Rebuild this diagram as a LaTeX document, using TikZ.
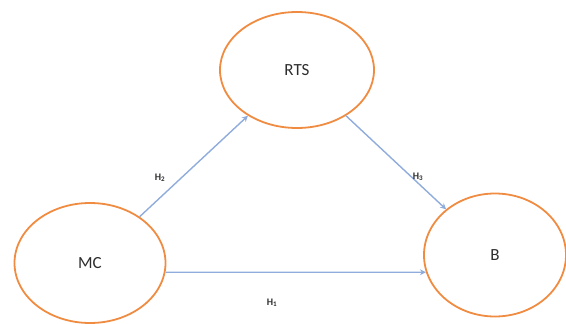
\documentclass[tikz,border=0pt]{standalone}
\usepackage{fontspec}
\setmainfont{Carlito}
\usetikzlibrary{shapes.geometric,arrows.meta}
\definecolor{ringorange}{RGB}{240,140,66}
\definecolor{linkblue}{RGB}{143,172,220}
\definecolor{inktext}{RGB}{45,45,45}
\tikzset{
  construct/.style={ellipse, draw=ringorange, line width=1.8pt, fill=white,
    inner sep=0pt, text=inktext, font=\fontsize{17}{19}\selectfont},
  link/.style={draw=linkblue, line width=1.4pt, -{Stealth[length=6pt,width=6pt,inset=2pt]}},
  hyp/.style={font=\fontsize{10}{11}\selectfont\bfseries, text=inktext, inner sep=1pt}
}
\begin{document}
\begin{tikzpicture}[x=1pt,y=-1pt]
  \useasboundingbox (0,0) rectangle (566,324);
  % constructs
  \node[construct, minimum width=151pt, minimum height=120pt] (mc)  at (90,263)  {MC};
  \node[construct, minimum width=154pt, minimum height=116pt] (rts) at (297,70)  {RTS};
  \node[construct, minimum width=142pt, minimum height=123pt] (b)   at (495,255) {B};
  % hypothesised paths
  \draw[link] (mc) -- (rts);
  \draw[link] (rts) -- (b);
  \draw[link] (mc.-7.7) -- (b.194.8);
  % path labels
  \node[hyp] (h2) at (160,178) {H\textsubscript{2}};
  \node[hyp] (h3) at (418,177) {H\textsubscript{3}};
  \node[hyp] (h1) at (272,303) {H\textsubscript{1}};
\end{tikzpicture}
\end{document}
